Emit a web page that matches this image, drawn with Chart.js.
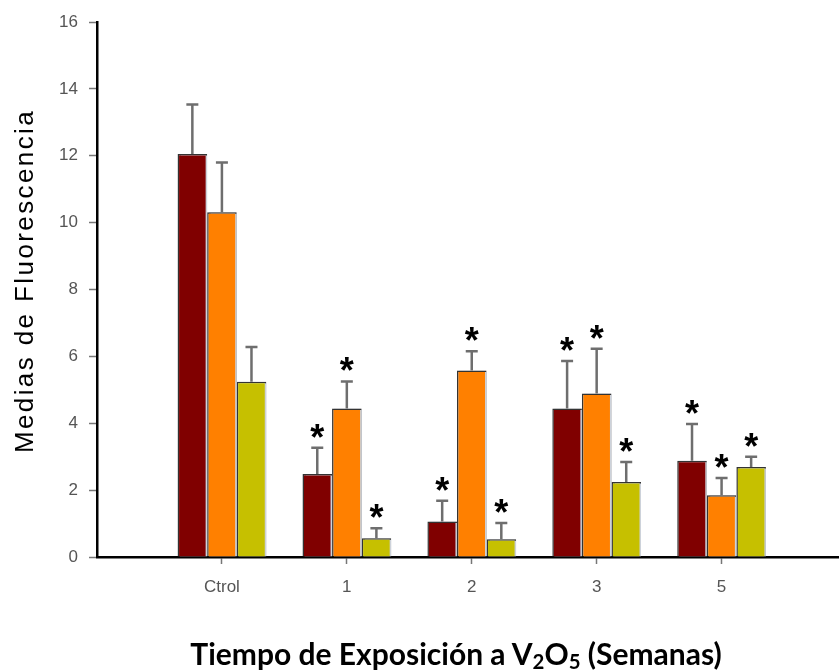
<!DOCTYPE html>
<html>
<head>
<meta charset="utf-8">
<script src="https://cdn.jsdelivr.net/npm/chart.js@4"></script>
<style>
  body { margin: 0; background: #fff; overflow: hidden; }
  #wrap { position: relative; width: 839px; height: 671px; }
  #xtitle {
    position: absolute; left: 0; top: 635px; width: 912px;
    text-align: center; font: bold 30px "Lato", "Open Sans", sans-serif; color: #000;
  }
  #xtitle sub { font-size: 0.68em; vertical-align: -0.22em; line-height: 0; }
</style>
</head>
<body>
<div id="wrap">
  <canvas id="chart" width="839" height="671"></canvas>
  <div id="xtitle">Tiempo de Exposición a V<sub>2</sub>O<sub>5</sub> (Semanas)</div>
</div>
<script>
// Groups along the x axis (weeks of exposure)
const groups = ['Ctrol', '1', '2', '3', '5'];

// Mean fluorescence per group, one array per bar colour
const darkRed = [12.05, 2.48, 1.06, 4.44, 2.88];
const orange = [10.31, 4.44, 5.58, 4.89, 1.85];
const olive = [5.24, 0.56, 0.53, 2.24, 2.69];

// Standard deviations (upper error bars)
const darkRedSD = [1.48, 0.79, 0.62, 1.42, 1.10];
const orangeSD = [1.49, 0.81, 0.57, 1.34, 0.51];
const oliveSD = [1.04, 0.30, 0.49, 0.60, 0.31];

// Significance marks (*) against control
const darkRedSig = [false, true, true, true, true];
const orangeSig = [false, true, true, true, true];
const oliveSig = [false, true, true, true, true];

const yTicks = [0, 2, 4, 6, 8, 10, 12, 14, 16];

function points(arr) {
  return arr.map((v, i) => ({ x: i + 1, y: v }));
}

const series = [
  { label: 'A', data: darkRed, sd: darkRedSD, sig: darkRedSig, color: '#800000' },
  { label: 'B', data: orange, sd: orangeSD, sig: orangeSig, color: '#ff8000' },
  { label: 'C', data: olive, sd: oliveSD, sig: oliveSig, color: '#c6c000' }
];

// error bars with caps + asterisks above them
const errorBars = {
  id: 'errorBars',
  afterDatasetsDraw(chart) {
    const ctx = chart.ctx;
    const y = chart.scales.y;
    ctx.save();
    series.forEach((s, di) => {
      chart.getDatasetMeta(di).data.forEach((bar, i) => {
        const top = y.getPixelForValue(s.data[i] + s.sd[i]);
        ctx.strokeStyle = '#6e6e6e';
        ctx.lineWidth = 2.5;
        ctx.beginPath();
        ctx.moveTo(bar.x, bar.y);
        ctx.lineTo(bar.x, top);
        ctx.moveTo(bar.x - 6, top);
        ctx.lineTo(bar.x + 6, top);
        ctx.stroke();
        if (s.sig[i]) {
          ctx.fillStyle = '#000';
          ctx.font = 'bold 36px "Liberation Sans", Arial, sans-serif';
          ctx.textAlign = 'center';
          ctx.textBaseline = 'alphabetic';
          const m = ctx.measureText('*');
          const cy = top - 17;
          const base = cy + (m.actualBoundingBoxAscent - m.actualBoundingBoxDescent) / 2;
          ctx.fillText('*', bar.x, base);
        }
      });
    });
    ctx.restore();
  }
};

// rotated y axis title
const yTitle = {
  id: 'yTitle',
  afterDraw(chart) {
    const ctx = chart.ctx;
    ctx.save();
    ctx.translate(26, 281);
    ctx.rotate(-Math.PI / 2);
    ctx.font = '26px "Liberation Sans", Arial, sans-serif';
    ctx.letterSpacing = '2.4px';
    ctx.fillStyle = '#000';
    ctx.textAlign = 'center';
    ctx.textBaseline = 'middle';
    ctx.fillText('Medias de Fluorescencia', 0, 0);
    ctx.restore();
  }
};

// soft grey shadow on the right side of the bars
const barShadow = {
  id: 'barShadow',
  beforeDatasetsDraw(chart) {
    chart.ctx.save();
    chart.ctx.shadowColor = '#cdd2da';
    chart.ctx.shadowOffsetX = 2;
    chart.ctx.shadowOffsetY = 0;
    chart.ctx.shadowBlur = 0;
  },
  afterDatasetsDraw(chart) {
    chart.ctx.restore();
  }
};

new Chart(document.getElementById('chart'), {
  type: 'bar',
  data: {
    datasets: series.map(s => ({
      label: s.label,
      data: points(s.data),
      backgroundColor: s.color,
      borderColor: '#333',
      borderWidth: 1.5,
      categoryPercentage: 0.71,
      barPercentage: 1.0
    }))
  },
  options: {
    responsive: false,
    animation: false,
    layout: { padding: { top: 22, right: 0, left: 0, bottom: 0 } },
    plugins: {
      legend: { display: false },
      tooltip: { enabled: false }
    },
    scales: {
      x: {
        type: 'linear',
        offset: false,
        min: 0,
        max: 5.94,
        afterBuildTicks(scale) {
          scale.ticks = groups.map((g, i) => ({ value: i + 1 }));
        },
        afterFit(scale) { scale.height = 114; },
        ticks: {
          callback: (v) => groups[v - 1],
          color: '#555',
          font: { family: '"Liberation Sans", Arial, sans-serif', size: 17 },
          padding: 13,
          maxRotation: 0
        },
        grid: { offset: false, drawOnChartArea: false, drawTicks: true, tickLength: 7, tickColor: '#777', tickWidth: 1.5 },
        border: { color: '#000', width: 2.5 }
      },
      y: {
        min: 0,
        max: 16,
        afterBuildTicks(scale) {
          scale.ticks = yTicks.map(v => ({ value: v }));
        },
        afterFit(scale) { scale.width = 97; },
        ticks: {
          color: '#555',
          font: { family: '"Liberation Sans", Arial, sans-serif', size: 17 },
          padding: 11
        },
        grid: { drawOnChartArea: false, drawTicks: true, tickLength: 8, tickColor: '#777', tickWidth: 1.5 },
        border: { color: '#000', width: 2.5 }
      }
    }
  },
  plugins: [barShadow, errorBars, yTitle]
});
</script>
</body>
</html>
